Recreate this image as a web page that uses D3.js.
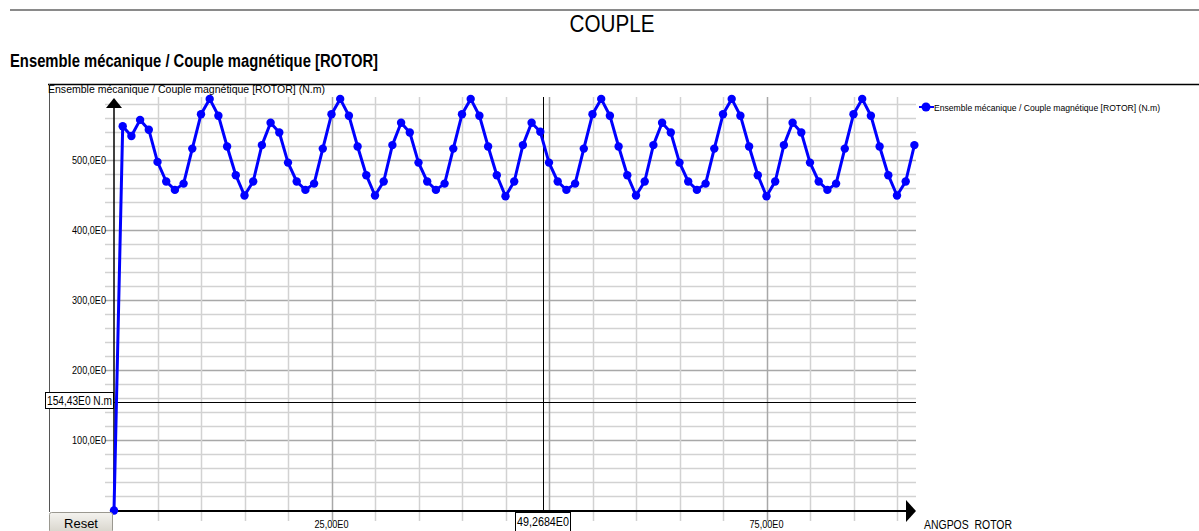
<!DOCTYPE html>
<html>
<head>
<meta charset="utf-8">
<script src="https://cdn.jsdelivr.net/npm/d3@7"></script>
<style>
  body { margin: 0; background: #fff; }
  svg text { font-family: "Liberation Sans Narrow", "Liberation Sans", Arial, sans-serif; }
</style>
</head>
<body>
<div class="chart"></div>
<script>
// angle (deg) and torque (N.m)
var angles = [0, 1, 2, 3, 4, 5, 6, 7, 8, 9, 10, 11, 12, 13, 14, 15, 16, 17, 18, 19,
  20, 21, 22, 23, 24, 25, 26, 27, 28, 29, 30, 31, 32, 33, 34, 35, 36, 37, 38, 39,
  40, 41, 42, 43, 44, 45, 46, 47, 48, 49, 50, 51, 52, 53, 54, 55, 56, 57, 58, 59,
  60, 61, 62, 63, 64, 65, 66, 67, 68, 69, 70, 71, 72, 73, 74, 75, 76, 77, 78, 79,
  80, 81, 82, 83, 84, 85, 86, 87, 88, 89, 90, 91, 92];
var couple = [0, 549, 535, 558, 544, 498, 470, 458, 467, 517, 566, 588, 564, 520, 479, 450,
  470, 522, 554, 540, 497, 470, 458, 467, 517, 566, 588, 564, 520, 479, 450,
  470, 522, 554, 540, 497, 470, 458, 467, 517, 566, 588, 564, 520, 479, 449,
  470, 522, 554, 541, 497, 470, 458, 467, 517, 566, 588, 564, 520, 479, 450,
  470, 522, 554, 540, 497, 470, 458, 467, 517, 566, 588, 564, 520, 479, 449,
  470, 522, 554, 540, 497, 470, 458, 467, 517, 566, 588, 564, 520, 479, 450,
  470, 522];
var yTicks = [100, 200, 300, 400, 500];
var xTicks = [25, 75]; // 50 sits under the cursor box
var cursorX = 49.2684;
var cursorY = 154.43;

var width = 1199, height = 531;
var svg = d3.select(".chart").append("svg")
  .attr("width", width).attr("height", height);

var x = d3.scaleLinear().domain([0, 100]).range([114, 984]);
var y = d3.scaleLinear().domain([0, 600]).range([510.5, 90.5]);
var fmt = function (v, d) { return v.toFixed(d).replace(".", ",") + "E0"; };

// header
svg.append("line").attr("x1", 10).attr("x2", 1199).attr("y1", 10).attr("y2", 10)
  .attr("stroke", "#8a8a8a").attr("stroke-width", 2);
svg.append("text").attr("x", 612).attr("y", 32).attr("text-anchor", "middle")
  .style("font-family", "'Liberation Sans', Arial, sans-serif")
  .attr("font-size", 23).attr("textLength", 85).attr("lengthAdjust", "spacingAndGlyphs")
  .text("COUPLE");
svg.append("text").attr("x", 10).attr("y", 67)
  .attr("font-size", 18).attr("font-weight", "bold")
  .attr("textLength", 368).attr("lengthAdjust", "spacingAndGlyphs")
  .text("Ensemble mécanique / Couple magnétique [ROTOR]");

// frame
svg.append("line").attr("x1", 48).attr("x2", 1199).attr("y1", 84.5).attr("y2", 84.5)
  .attr("stroke", "#000").attr("stroke-width", 1.5);
svg.append("line").attr("x1", 49.5).attr("x2", 49.5).attr("y1", 84).attr("y2", 512)
  .attr("stroke", "#555").attr("stroke-width", 1);

// grid
var g = svg.append("g");
g.selectAll(".hg").data(d3.range(20, 600, 20)).join("line")
  .attr("x1", 105).attr("x2", 916)
  .attr("y1", d => y(d)).attr("y2", d => y(d))
  .attr("stroke", d => d % 100 === 0 ? "#a8a8a8" : "#d2d2d2")
  .attr("stroke-width", 1.5);
g.selectAll(".vg").data(d3.range(5, 95, 5)).join("line")
  .attr("x1", d => Math.round(x(d)) + 0.5).attr("x2", d => Math.round(x(d)) + 0.5)
  .attr("y1", 97).attr("y2", 521)
  .attr("stroke", d => d % 25 === 0 ? "#a8a8a8" : "#d2d2d2")
  .attr("stroke-width", 1.5);

// tick labels
svg.selectAll(".yl").data(yTicks).join("text")
  .attr("x", 106).attr("y", d => y(d) + 3).attr("text-anchor", "end")
  .attr("font-size", 10).attr("textLength", 34).attr("lengthAdjust", "spacingAndGlyphs")
  .text(d => fmt(d, 1));
svg.selectAll(".xl").data(xTicks).join("text")
  .attr("x", d => x(d)).attr("y", 528).attr("text-anchor", "middle")
  .attr("font-size", 10).attr("textLength", 34).attr("lengthAdjust", "spacingAndGlyphs")
  .text(d => fmt(d, 2));

svg.append("text").attr("x", 48).attr("y", 93)
  .attr("font-size", 11).attr("textLength", 277).attr("lengthAdjust", "spacingAndGlyphs")
  .text("Ensemble mécanique / Couple magnétique [ROTOR] (N.m)");
svg.append("text").attr("x", 924).attr("y", 529)
  .attr("font-size", 12).attr("textLength", 88).attr("lengthAdjust", "spacingAndGlyphs")
  .text("ANGPOS_ROTOR");

// axes with arrows
svg.append("line").attr("x1", 114).attr("x2", 114).attr("y1", 511).attr("y2", 106)
  .attr("stroke", "#000").attr("stroke-width", 1.5);
svg.append("path").attr("d", "M106,108 L114,98 L122,108 Z").attr("fill", "#000");
svg.append("line").attr("x1", 114).attr("x2", 908).attr("y1", 511).attr("y2", 511)
  .attr("stroke", "#000").attr("stroke-width", 2);
svg.append("path").attr("d", "M906,500 L916,511 L906,522 Z").attr("fill", "#000");

// cursor lines
svg.append("line").attr("x1", Math.round(x(cursorX)) + 0.5).attr("x2", Math.round(x(cursorX)) + 0.5)
  .attr("y1", 97).attr("y2", 511).attr("stroke", "#000").attr("stroke-width", 1);
svg.append("line").attr("x1", 114).attr("x2", 916)
  .attr("y1", Math.round(y(cursorY)) + 0.5).attr("y2", Math.round(y(cursorY)) + 0.5)
  .attr("stroke", "#000").attr("stroke-width", 1);

// series
var pts = angles.map((a, i) => [a, couple[i]]);
svg.append("path").datum(pts)
  .attr("fill", "none").attr("stroke", "#0000ff").attr("stroke-width", 3)
  .attr("stroke-linejoin", "round")
  .attr("d", d3.line().x(d => x(d[0])).y(d => y(d[1])));
svg.selectAll(".pt").data(pts).join("circle")
  .attr("cx", d => x(d[0])).attr("cy", d => y(d[1])).attr("r", 4.2)
  .attr("fill", "#0000ff");

// legend
svg.append("line").attr("x1", 919).attr("x2", 934).attr("y1", 107).attr("y2", 107)
  .attr("stroke", "#0000ff").attr("stroke-width", 2);
svg.append("circle").attr("cx", 926).attr("cy", 107).attr("r", 4.5).attr("fill", "#0000ff");
svg.append("text").attr("x", 934).attr("y", 110.5)
  .attr("font-size", 9).attr("textLength", 226).attr("lengthAdjust", "spacingAndGlyphs")
  .text("Ensemble mécanique / Couple magnétique [ROTOR] (N.m)");

// cursor value boxes
svg.append("rect").attr("x", 45.5).attr("y", 392.5).attr("width", 68).attr("height", 16)
  .attr("fill", "#fff").attr("stroke", "#000");
svg.append("text").attr("x", 47).attr("y", 405)
  .attr("font-size", 12).attr("textLength", 65).attr("lengthAdjust", "spacingAndGlyphs")
  .text(fmt(cursorY, 2) + " N.m");
svg.append("rect").attr("x", 515.5).attr("y", 512.5).attr("width", 55).attr("height", 19)
  .attr("fill", "#fff").attr("stroke", "#000");
svg.append("text").attr("x", 517).attr("y", 526)
  .attr("font-size", 12).attr("textLength", 52).attr("lengthAdjust", "spacingAndGlyphs")
  .text(fmt(cursorX, 4));

// reset button
var grad = svg.append("defs").append("linearGradient").attr("id", "btn")
  .attr("x1", 0).attr("x2", 0).attr("y1", 0).attr("y2", 1);
grad.append("stop").attr("offset", "0%").attr("stop-color", "#f4f3ef");
grad.append("stop").attr("offset", "100%").attr("stop-color", "#d8d5cc");
svg.append("rect").attr("x", 49.5).attr("y", 512.5).attr("width", 63).attr("height", 20)
  .attr("rx", 2).attr("fill", "url(#btn)").attr("stroke", "#9a9890");
svg.append("text").attr("x", 81).attr("y", 528).attr("text-anchor", "middle")
  .style("font-family", "'Liberation Sans', Arial, sans-serif")
  .attr("font-size", 13).text("Reset");
</script>
</body>
</html>
